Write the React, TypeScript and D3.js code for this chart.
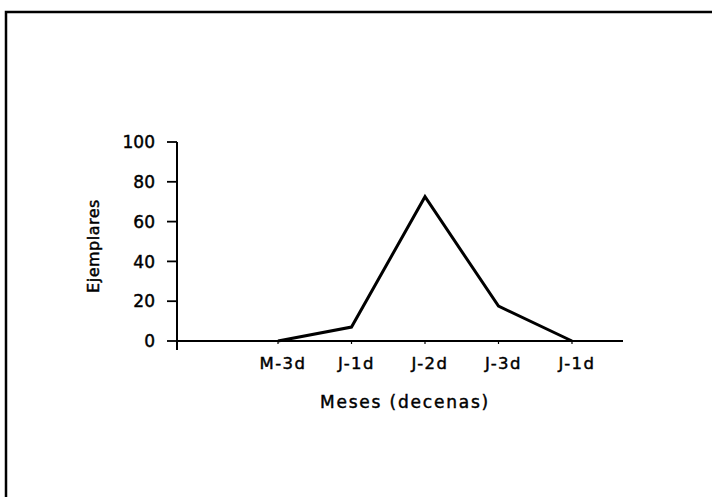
import React, { useEffect, useRef } from "react";
import * as d3 from "d3";

const categories: string[] = ["M-3d", "J-1d", "J-2d", "J-3d", "J-1d"];
const values: number[] = [0, 7, 72.5, 17.5, 0];
const yTicks: number[] = [0, 20, 40, 60, 80, 100];
const yLabel = "Ejemplares";
const xLabel = "Meses (decenas)";

export default function App() {
  const ref = useRef<SVGSVGElement | null>(null);

  useEffect(() => {
    const svg = d3.select(ref.current);
    svg.selectAll("*").remove();
    const W = 712, H = 497;
    const font = "'DejaVu Sans', sans-serif";

    svg.append("rect").attr("width", W).attr("height", H).attr("fill", "#fff");

    // frame (top and left edges only)
    svg.append("path")
      .attr("d", `M6,${H} L6,12 L${W},12`)
      .attr("fill", "none").attr("stroke", "#000").attr("stroke-width", 2.5);

    const x = d3.scalePoint<number>().domain(d3.range(categories.length)).range([278, 572]);
    const y = d3.scaleLinear().domain([0, 100]).range([341, 142]);
    const axisX = 177;

    const txt = (sel: any) =>
      sel.attr("font-family", font).attr("fill", "#000").attr("stroke", "#000").attr("stroke-width", 0.45);

    // y axis
    svg.append("line").attr("x1", axisX).attr("x2", axisX).attr("y1", y(100)).attr("y2", y(0) + 9)
      .attr("stroke", "#000").attr("stroke-width", 2);
    yTicks.forEach((t) => {
      svg.append("line").attr("x1", axisX - 10).attr("x2", axisX).attr("y1", y(t)).attr("y2", y(t))
        .attr("stroke", "#000").attr("stroke-width", 1.8);
      txt(svg.append("text").attr("x", axisX - 22).attr("y", y(t)).attr("dy", "0.36em")
        .attr("text-anchor", "end").attr("font-size", 17))
        .text(String(t));
    });

    // x axis
    svg.append("line").attr("x1", axisX).attr("x2", 623).attr("y1", y(0)).attr("y2", y(0))
      .attr("stroke", "#000").attr("stroke-width", 2);
    categories.forEach((c, i) => {
      svg.append("line").attr("x1", x(i)!).attr("x2", x(i)!).attr("y1", y(0)).attr("y2", y(0) + 3)
        .attr("stroke", "#000").attr("stroke-width", 1.2);
      txt(svg.append("text").attr("x", x(i)! + 5).attr("y", 369)
        .attr("text-anchor", "middle").attr("font-size", 16.5)
        .attr("letter-spacing", 1.5)).text(c);
    });

    // line
    const line = d3.line<number>().x((_, i) => x(i)!).y((d) => y(d));
    svg.append("path").datum(values).attr("d", line)
      .attr("fill", "none").attr("stroke", "#000").attr("stroke-width", 3)
      .attr("stroke-linejoin", "miter");

    // axis titles
    txt(svg.append("text").attr("x", 405).attr("y", 408).attr("text-anchor", "middle")
      .attr("font-size", 17).attr("letter-spacing", 1.8)).text(xLabel);
    txt(svg.append("text").attr("transform", `translate(99,246) rotate(-90)`)
      .attr("text-anchor", "middle").attr("font-size", 16).attr("letter-spacing", 0.5))
      .text(yLabel);
  }, []);

  return (
    <svg ref={ref} width={712} height={497}
      style={{ position: "absolute", left: 0, top: 0, display: "block" }} />
  );
}
